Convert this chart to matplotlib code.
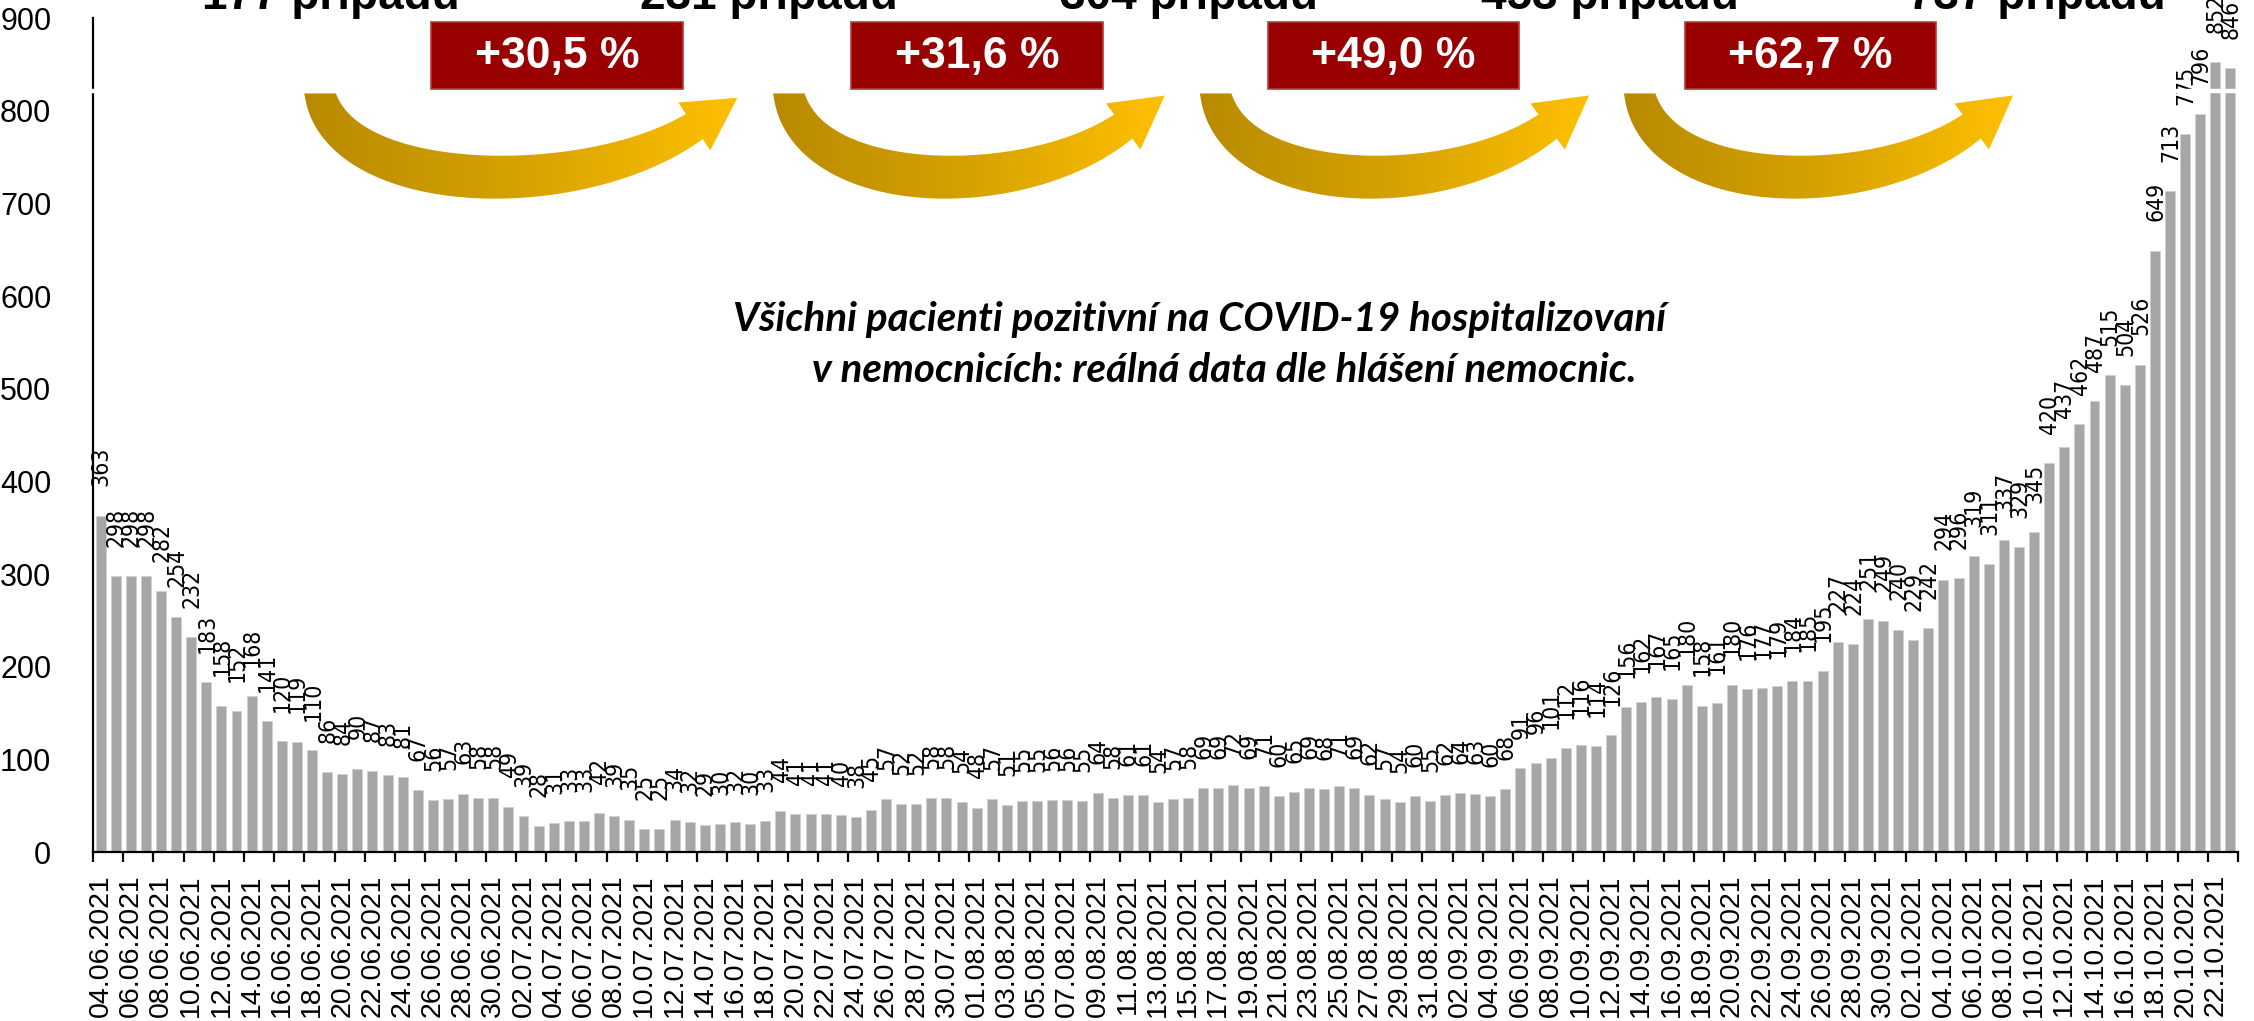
import numpy as np
import pandas as pd
import matplotlib
matplotlib.use('Agg')
import matplotlib.pyplot as plt
from matplotlib.patches import Polygon, Rectangle
from matplotlib.colors import LinearSegmentedColormap
from matplotlib import font_manager

# ---------------- data ----------------
values = [363, 298, 298, 298, 282, 254, 232, 183, 158, 152, 168, 141, 120, 119, 110,
          86, 84, 90, 87, 83, 81,
          67, 56, 57, 63, 58, 58,
          49, 39, 28, 31, 33, 33, 42, 39, 35,
          25, 25, 34, 32, 29, 30, 32, 30, 33,
          44, 41, 41, 41, 40, 38, 45,
          57, 52, 52, 58, 58, 54, 48, 57, 51, 55, 55, 56, 56, 55, 64,
          58, 61, 61, 54, 57, 58, 69, 69, 72, 69, 71, 60, 65, 69,
          68, 71, 69, 62, 57, 54, 60, 55, 62, 64, 63, 60, 68,
          91, 96, 101, 112, 116, 114, 126,
          156, 162, 167, 165, 180, 158, 161, 180, 176, 177, 179, 184, 185, 195,
          227, 224, 251, 249, 240, 229, 242,
          294, 296, 319, 311, 337, 329, 345,
          420, 437, 462, 487, 515, 504, 526,
          649, 713, 775, 796, 852, 846]
dates = pd.date_range('2021-06-04', '2021-10-23', freq='D')
date_labels = [d.strftime('%d.%m.%Y') for d in dates]
yticks = [0, 100, 200, 300, 400, 500, 600, 700, 800, 900]
case_counts = ['177 případů', '231 případů', '304 případů', '453 případů', '737 případů']
growth_labels = ['+30,5 %', '+31,6 %', '+49,0 %', '+62,7 %']
note_lines = ['Všichni pacienti pozitivní na COVID-19 hospitalizovaní',
              'v nemocnicích: reálná data dle hlášení nemocnic.']

# bar label font: prefer condensed DejaVu if present
fp_cond = font_manager.FontProperties(family='DejaVu Sans', stretch='condensed')
try:
    fpath = font_manager.findfont(fp_cond, fallback_to_default=True)
except Exception:
    fpath = ''
if 'Condensed' in fpath:
    lab_kw = dict(fontproperties=font_manager.FontProperties(fname=fpath, size=16.5))
else:
    lab_kw = dict(family='DejaVu Sans', fontsize=15)

# ---------------- layout ----------------
W, H = 2254, 1021
fig = plt.figure(figsize=(W / 100, H / 100), dpi=100)
x0_px, x1_px, ybase_px, ytop_px = 93, 2238, 852, 18
ax = fig.add_axes([x0_px / W, (H - ybase_px) / H, (x1_px - x0_px) / W, (ybase_px - ytop_px) / H])

x = np.arange(len(values))
ax.bar(x, values, width=0.66, color='#A6A6A6', edgecolor='#D0D0D0', linewidth=0.6, zorder=2)
ax.set_xlim(-0.5, len(values) - 0.5)
ax.set_ylim(0, 900)

for i, v in enumerate(values):
    ax.annotate(str(v), (i, v), xytext=(0.5, 21), textcoords='offset points',
                rotation=90, ha='center', va='bottom', color='black',
                annotation_clip=False, zorder=3, **lab_kw)

for s in ['top', 'right']:
    ax.spines[s].set_visible(False)
for s in ['left', 'bottom']:
    ax.spines[s].set_linewidth(1.6)
    ax.spines[s].set_color('black')

ax.set_yticks(yticks)
ax.set_yticklabels([str(t) for t in yticks], fontsize=22, family='Liberation Sans')
ax.tick_params(axis='y', length=0, pad=30)

ax.set_xticks(x[::2])
ax.set_xticklabels(date_labels[::2], rotation=90, fontsize=20.5, family='Liberation Sans')
ax.tick_params(axis='x', which='major', length=0, pad=16)
ax.set_xticks(np.arange(-0.5, len(values), 2), minor=True)
ax.tick_params(axis='x', which='minor', length=7, width=1.6, direction='out')

# ---------------- overlay ----------------
ov = fig.add_axes([0, 0, 1, 1], zorder=5)
ov.patch.set_alpha(0)
ov.axis('off')

S = W / 1568.0  # shrunk->full factor

# white break line
ov.plot([55, W], [91, 91], color='white', lw=3.2, solid_capstyle='butt', zorder=1)

cmap = LinearSegmentedColormap.from_list('gold', ['#B88A00', '#D6A200', '#FFC000'])


def bez(t, P0, C1, C2, P3):
    t = t[:, None]
    return ((1 - t) ** 3) * P0 + 3 * t * (1 - t) ** 2 * C1 + 3 * t ** 2 * (1 - t) * C2 + t ** 3 * P3


def dbez(t, P0, C1, C2, P3):
    t = t[:, None]
    return 3 * (1 - t) ** 2 * (C1 - P0) + 6 * t * (1 - t) * (C2 - C1) + 3 * t ** 2 * (P3 - C2)


def curved_arrow(left, width):
    fx = width / 310.0
    def P(px, py):
        return np.array([(left + px * fx) * S, py * S])
    P0, C1, C2, P3 = P(17, 62), P(28, 137), P(200, 140), P(278, 88)
    t = np.linspace(0, 1, 80)
    B = bez(t, P0, C1, C2, P3)
    D = dbez(t, P0, C1, C2, P3)
    D = D / np.linalg.norm(D, axis=1)[:, None]
    N = np.column_stack([-D[:, 1], D[:, 0]])
    hw = (10.5 + 4.5 * np.sin(np.pi * t)) * S
    left_side = B + N * hw[:, None]
    right_side = B - N * hw[:, None]
    tend = D[-1]
    nend = N[-1]
    head_hw = 20 * S
    head_len = 36 * S
    hl = B[-1] + nend * head_hw
    hr = B[-1] - nend * head_hw
    tip = B[-1] + tend * head_len
    pts = np.vstack([left_side, hl, tip, hr, right_side[::-1]])
    pts[:, 1] = np.maximum(pts[:, 1], 65 * S)
    poly = Polygon(pts, closed=True, facecolor='none', edgecolor='none', transform=ov.transData)
    ov.add_patch(poly)
    xmin, xmax = pts[:, 0].min(), pts[:, 0].max()
    ymin, ymax = pts[:, 1].min(), pts[:, 1].max()
    grad = np.linspace(0, 1, 256)[None, :]
    im = ov.imshow(grad, extent=[xmin, xmax, ymax, ymin], cmap=cmap, aspect='auto', zorder=2,
                   interpolation='bilinear')
    im.set_clip_path(poly)


arrow_lefts = [205, 533, 830, 1125]
arrow_widths = [310, 277, 275, 275]
for l, wdt in zip(arrow_lefts, arrow_widths):
    curved_arrow(l, wdt)

box_lefts = [300, 592, 882, 1172]
for bl, lab in zip(box_lefts, growth_labels):
    ov.add_patch(Rectangle((bl * S, 15 * S), 175 * S, 47 * S, facecolor='#990000',
                           edgecolor='#B83A3A', linewidth=1.2, zorder=3))
    ov.text((bl + 87.5) * S, 39 * S, lab, color='white', fontsize=32, fontweight='bold',
            family='Liberation Sans', ha='center', va='center', zorder=4)

head_centers = [230, 535, 827, 1120, 1417]
for hc, lab in zip(head_centers, case_counts):
    ov.text(hc * S, 9, lab, color='black', fontsize=33, fontweight='bold',
            family='Liberation Sans', ha='center', va='baseline', zorder=4)

ov.text(510 * S, 222 * S, note_lines[0], fontsize=29, fontweight='bold', style='italic',
        family='Lato', ha='left', va='center', zorder=4)
ov.text(565 * S, 258 * S, note_lines[1], fontsize=29, fontweight='bold', style='italic',
        family='Lato', ha='left', va='center', zorder=4)

ov.set_xlim(0, W)
ov.set_ylim(H, 0)

fig.savefig('out.png', dpi=100)
